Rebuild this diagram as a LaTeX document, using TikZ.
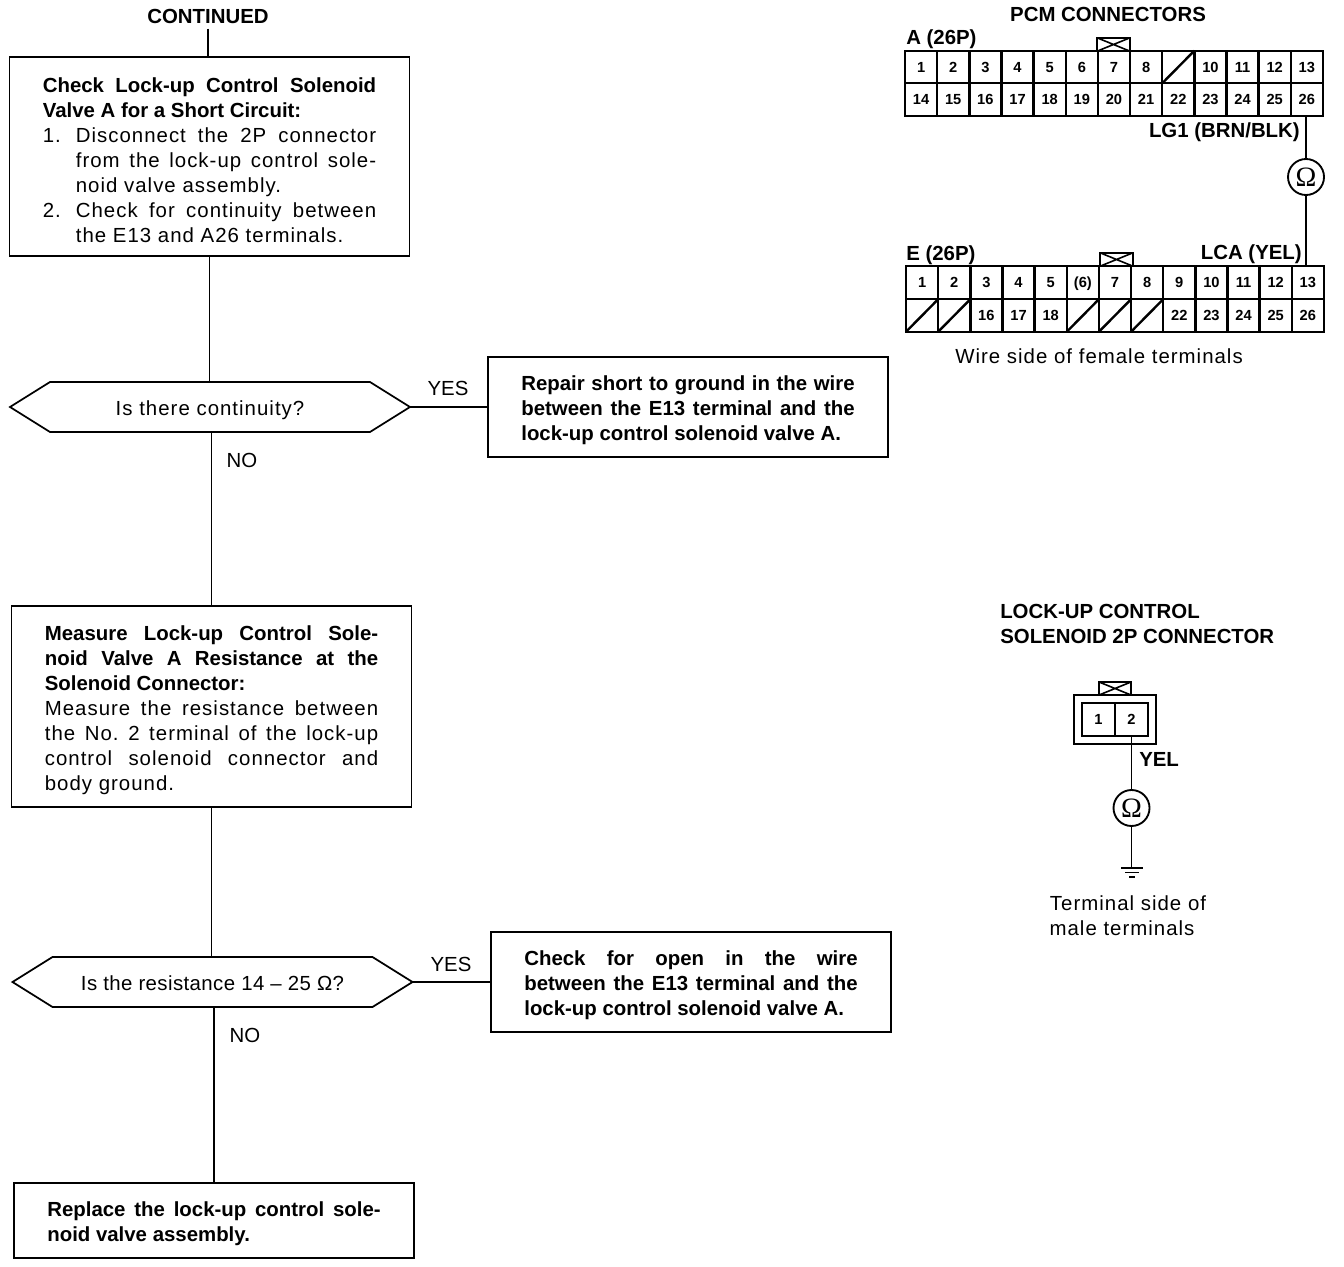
\documentclass[tikz,border=0pt]{standalone}
\usepackage{fontspec}
\setmainfont{Liberation Sans}
\newfontfamily\omfont{Liberation Serif}
\newfontfamily\spf[LetterSpace=5]{Liberation Sans}
\newfontfamily\spg[LetterSpace=2]{Liberation Sans}
\usetikzlibrary{shapes.symbols}
\newcommand{\bodyf}{\fontsize{15.3}{18.75}\selectfont}
\newcommand{\itm}[1]{\hangindent=24.75pt\hangafter=1\noindent\hbox to 24.75pt{#1\hfil}}
\tikzset{
  flow/.style={draw=black,line width=1.3pt},
  box/.style={flow,rectangle,minimum width=300pt,text width=250pt,inner xsep=0pt,inner ysep=0pt,align=justify,outer sep=0pt,font=\bodyf\frenchspacing,execute at end node={\par\nointerlineskip\vskip -5pt\hbox{}}},
  hexa/.style={flow,signal,signal to=west and east,signal pointer angle=64,minimum width=300pt,minimum height=37.5pt,inner sep=0pt,outer sep=0pt,text height=15.5pt,text depth=3pt,font=\bodyf},
  caplab/.style={inner sep=0pt,font=\bodyf},
  lab/.style={inner sep=0pt,font=\spf\bodyf},
  blab/.style={inner sep=0pt,font=\bodyf\bfseries},
  cell/.style={draw=black,line width=1.8pt,rectangle,minimum width=24.1pt,minimum height=24.4pt,inner sep=0pt,outer sep=0pt,text height=8pt,text depth=0pt,font=\fontsize{11}{11}\selectfont\bfseries},
  keybox/.style={draw=black,line width=1.6pt,rectangle,minimum width=24.5pt,minimum height=10pt,inner sep=0pt,outer sep=0pt},
  wire/.style={draw=black,line width=1.3pt},
  ohm/.style={draw=black,line width=1.4pt,circle,minimum size=27pt,inner sep=0pt,outer sep=0pt,font=\omfont\fontsize{21}{21}\selectfont},
  shell/.style={draw=black,line width=1.6pt,rectangle,inner sep=0pt,outer sep=0pt}
}
\begin{document}
\begin{tikzpicture}[x=0.75pt,y=-0.75pt]
\useasboundingbox (0,0) rectangle (1344,1266);
\fill[white] (0,0) rectangle (1344,1266);

% flow
\node[blab,outer ysep=4pt] (cont) at (208,16) {CONTINUED};
\node[box,minimum height=149pt] (b1) at (209.5,156.5) {\bfseries Check Lock-up Control Solenoid\linebreak Valve A for a Short Circuit:\par\spf\mdseries
\itm{1.}Disconnect the 2P connector\linebreak from the lock-up control sole-\linebreak noid valve assembly.\par
\itm{2.}Check for continuity between\linebreak the E13 and A26 terminals.\par};
\node[hexa] (h1) at (210,407) {\spf Is there continuity?};
\node[box,minimum height=75pt] (b2) at (688,407) {\bfseries Repair short to ground in the wire\linebreak between the E13 terminal and the\linebreak lock-up control solenoid valve A.};
\node[box,minimum height=150.5pt] (b3) at (211.5,706.5) {\bfseries Measure Lock-up Control Sole-\linebreak noid Valve A Resistance at the\linebreak Solenoid Connector:\par\spf\mdseries
Measure the resistance between\linebreak the No. 2 terminal of the lock-up\linebreak control solenoid connector and\linebreak body ground.};
\node[hexa] (h2) at (212.5,982) {\spg Is the resistance 14 – 25 Ω?};
\node[box,minimum height=75pt] (b4) at (691,982) {\bfseries Check for open in the wire\linebreak between the E13 terminal and the\linebreak lock-up control solenoid valve A.};
\node[box,minimum height=56pt] (b5) at (214,1220.5) {\bfseries Replace the lock-up control sole-\linebreak noid valve assembly.};

\draw[flow] (cont.south) -- (cont.south |- b1.north);
\draw[flow] (b1.south) -- (b1.south |- h1.north);
\draw[flow] (b3.north |- h1.south) -- (b3.north);
\draw[flow] (b3.south) -- (b3.south |- h2.north);
\draw[flow] (b5.north |- h2.south) -- (b5.north);
\draw[flow] (h1.east) -- (b2.west);
\draw[flow] (h2.east) -- (b4.west);
\node[caplab] (y1) at (448,388) {YES};
\node[caplab] (n1) at (242,460) {NO};
\node[caplab] (y2) at (451,964) {YES};
\node[caplab] (n2) at (245,1035) {NO};

% PCM connectors
\node[blab] (pcm) at (1108,14) {PCM CONNECTORS};
\node[blab,anchor=west] (alab) at (906,39) {A (26P)};
\node[blab,anchor=west] (elab) at (906,255) {E (26P)};
\node[blab,anchor=east] (lg1) at (1300,132) {LG1 (BRN/BLK)};
\node[blab,anchor=east] (lca) at (1302,254) {LCA (YEL)};
\node[lab] (wside) at (1099,356) {Wire side of female terminals};

\foreach \t [count=\i] in {1,2,3,4,5,6,7,8,{},10,11,12,13,14,15,16,17,18,19,20,21,22,23,24,25,26}{
  \pgfmathsetmacro{\cx}{905+(mod(\i-1,13)+.5)*32.15}
  \pgfmathsetmacro{\cy}{\i>13 ? 99.5 : 67}
  \node[cell] (a\i) at (\cx,\cy) {\t};
}
\foreach \t [count=\i] in {1,2,3,4,5,(6),7,8,9,10,11,12,13,{},{},16,17,18,{},{},{},22,23,24,25,26}{
  \pgfmathsetmacro{\cx}{906+(mod(\i-1,13)+.5)*32.15}
  \pgfmathsetmacro{\cy}{\i>13 ? 315.5 : 282.5}
  \node[cell] (e\i) at (\cx,\cy) {\t};
}
\foreach \c in {a9,e14,e15,e19,e20,e21}{
  \draw[line width=1.8pt] (\c.south west) -- (\c.north east);
}
\node[keybox] (ka) at (1113.5,44.5) {};
\draw[line width=1.2pt] (ka.south west) -- (ka.north east) (ka.north west) -- (ka.south east);
\node[keybox] (ke) at (1116.5,259.5) {};
\draw[line width=1.2pt] (ke.south west) -- (ke.north east) (ke.north west) -- (ke.south east);

\node[ohm] (o1) at (1306,177) {Ω};
\draw[wire] (o1.north |- a26.south) -- (o1.north);
\draw[wire] (o1.south) -- (o1.south |- e13.north);

% 2P connector
\node[blab,anchor=west] (lk1) at (1000,611) {LOCK-UP CONTROL};
\node[blab,anchor=west] (lk2) at (1000,636) {SOLENOID 2P CONNECTOR};
\node[shell,minimum width=61.5pt,minimum height=36.8pt] (shell) at (1115,719.5) {};
\node[cell,minimum height=24.4pt,minimum width=24.6pt] (p1) at (1098.5,719.5) {1};
\node[cell,minimum height=24.4pt,minimum width=24.6pt] (p2) at (1131.5,719.5) {2};
\node[keybox] (kp) at (1115,688.5) {};
\draw[line width=1.2pt] (kp.south west) -- (kp.north east) (kp.north west) -- (kp.south east);
\node[blab,anchor=west] (yel) at (1139,759) {YEL};
\node[ohm] (o2) at (1131.5,808) {Ω};
\coordinate (g0) at (1131.5,868);
\draw[wire] (p2.south) -- (o2.north);
\draw[wire] (o2.south) -- (g0);
\draw[line width=1pt] (1121,868) -- (1143,868) (1125,872.5) -- (1139,872.5) (1129,877) -- (1135,877);
\node[lab] (ts1) at (1128,903) {Terminal side of};
\node[lab] (ts2) at (1122,928) {male terminals};
\end{tikzpicture}
\end{document}
